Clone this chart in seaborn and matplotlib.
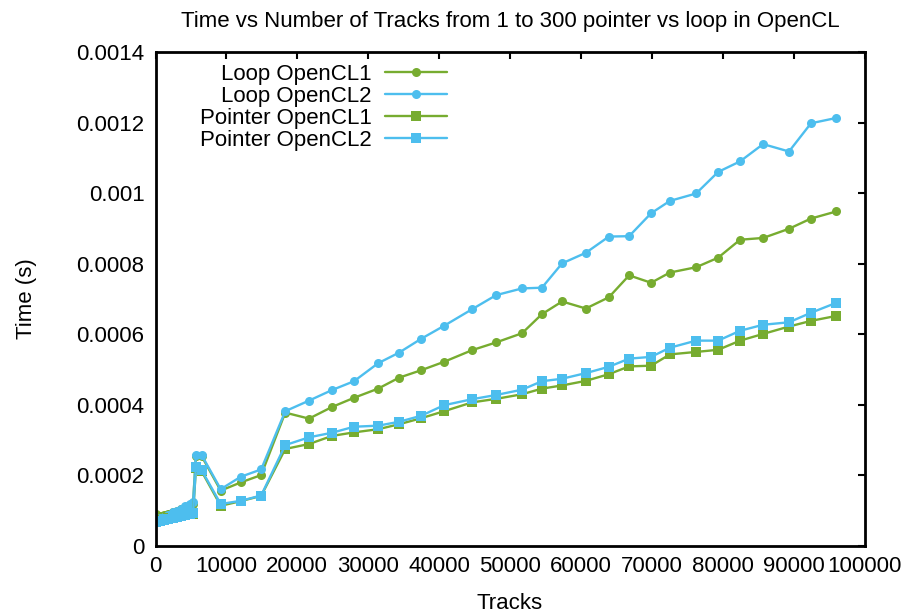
import matplotlib
matplotlib.use("Agg")
import matplotlib.pyplot as plt
import seaborn as sns
import pandas as pd
from matplotlib.ticker import FuncFormatter, MultipleLocator

# ---- data ----
tracks = [100, 600, 1200, 1800, 2400, 3000, 3600, 4200, 4800, 5300,
          5700, 6500, 9200, 12000, 14900,
          18300, 21650, 24900, 28000, 31400, 34350, 37450, 40700, 44650, 48050,
          51700, 54500, 57350, 60700, 63950, 66800, 69900, 72550, 76250, 79350,
          82450, 85700, 89350, 92450, 96000]

loop_cl1 = [9.0e-5, 8.5e-5, 8.7e-5, 9.2e-5, 9.6e-5, 1.0e-4, 1.05e-4, 1.1e-4, 1.15e-4, 1.2e-4,
            2.55e-4, 2.55e-4, 1.57e-4, 1.80e-4, 2.01e-4,
            3.78e-4, 3.61e-4, 3.94e-4, 4.20e-4, 4.46e-4, 4.77e-4, 4.98e-4, 5.22e-4, 5.55e-4, 5.77e-4,
            6.03e-4, 6.57e-4, 6.93e-4, 6.73e-4, 7.05e-4, 7.67e-4, 7.46e-4, 7.75e-4, 7.90e-4, 8.17e-4,
            8.68e-4, 8.73e-4, 8.99e-4, 9.28e-4, 9.48e-4]

loop_cl2 = [7.5e-5, 7.8e-5, 8.3e-5, 8.8e-5, 9.5e-5, 1.0e-4, 1.06e-4, 1.12e-4, 1.18e-4, 1.24e-4,
            2.58e-4, 2.58e-4, 1.61e-4, 1.96e-4, 2.17e-4,
            3.82e-4, 4.12e-4, 4.42e-4, 4.67e-4, 5.18e-4, 5.48e-4, 5.87e-4, 6.24e-4, 6.71e-4, 7.11e-4,
            7.30e-4, 7.32e-4, 8.01e-4, 8.31e-4, 8.77e-4, 8.78e-4, 9.43e-4, 9.78e-4, 9.99e-4, 1.060e-3,
            1.090e-3, 1.139e-3, 1.118e-3, 1.198e-3, 1.213e-3]

pointer_cl1 = [7.2e-5, 7.3e-5, 7.5e-5, 7.8e-5, 8.0e-5, 8.3e-5, 8.5e-5, 8.8e-5, 9.0e-5, 9.2e-5,
               2.20e-4, 2.12e-4, 1.14e-4, 1.27e-4, 1.42e-4,
               2.75e-4, 2.89e-4, 3.12e-4, 3.22e-4, 3.31e-4, 3.45e-4, 3.62e-4, 3.82e-4, 4.07e-4, 4.17e-4,
               4.30e-4, 4.46e-4, 4.55e-4, 4.68e-4, 4.87e-4, 5.09e-4, 5.11e-4, 5.43e-4, 5.50e-4, 5.56e-4,
               5.82e-4, 6.01e-4, 6.22e-4, 6.38e-4, 6.52e-4]

pointer_cl2 = [6.8e-5, 7.0e-5, 7.3e-5, 7.6e-5, 7.9e-5, 8.2e-5, 8.5e-5, 8.8e-5, 9.1e-5, 9.4e-5,
               2.23e-4, 2.15e-4, 1.19e-4, 1.28e-4, 1.43e-4,
               2.86e-4, 3.08e-4, 3.21e-4, 3.38e-4, 3.41e-4, 3.52e-4, 3.69e-4, 3.99e-4, 4.16e-4, 4.28e-4,
               4.43e-4, 4.67e-4, 4.74e-4, 4.90e-4, 5.08e-4, 5.31e-4, 5.36e-4, 5.62e-4, 5.82e-4, 5.82e-4,
               6.10e-4, 6.27e-4, 6.34e-4, 6.61e-4, 6.89e-4]

series_names = ["Loop OpenCL1", "Loop OpenCL2", "Pointer OpenCL1", "Pointer OpenCL2"]
series_values = [loop_cl1, loop_cl2, pointer_cl1, pointer_cl2]
series_colors = ["#77AC30", "#4DBEEE", "#77AC30", "#4DBEEE"]
series_markers = ["o", "o", "s", "s"]
series_msize = [6.5, 6.5, 7, 7]

sns.set_theme(style="white")
plt.rcParams["font.family"] = ["Liberation Sans", "DejaVu Sans"]
plt.rcParams["font.size"] = 16
plt.rcParams["text.color"] = "black"
plt.rcParams["axes.labelcolor"] = "black"
plt.rcParams["xtick.color"] = "black"
plt.rcParams["ytick.color"] = "black"

fig = plt.figure(figsize=(9.09, 6.13), dpi=100)
ax = fig.add_axes([155.5 / 909, 67 / 613, 709 / 909, 494 / 613])

for name, vals, col, mk, ms in zip(series_names, series_values, series_colors,
                                  series_markers, series_msize):
    df = pd.DataFrame({"Tracks": tracks, "Time": vals})
    sns.lineplot(data=df, x="Tracks", y="Time", ax=ax, color=col, marker=mk,
                 markersize=ms, markeredgewidth=0, linewidth=1.7,
                 estimator=None, sort=False, label=name)

ax.set_xlim(0, 100000)
ax.set_ylim(0, 0.0014)
ax.xaxis.set_major_locator(MultipleLocator(10000))
ax.yaxis.set_major_locator(MultipleLocator(0.0002))
ax.xaxis.set_major_formatter(FuncFormatter(lambda v, p: "%d" % round(v)))
ax.yaxis.set_major_formatter(FuncFormatter(lambda v, p: "%g" % round(v, 6)))

ax.tick_params(axis="both", which="major", direction="in", length=5, width=1.5,
               colors="black", labelcolor="black", labelsize=16, top=True, right=True)
ax.tick_params(axis="x", pad=7)
ax.tick_params(axis="y", pad=8)
for sp in ax.spines.values():
    sp.set_visible(True)
    sp.set_color("black")
    sp.set_linewidth(2)

ax.set_xlabel("Tracks", fontsize=16, labelpad=12, color="black")
ax.set_ylabel("Time (s)", fontsize=16, labelpad=28, color="black")
ax.set_title("Time vs Number of Tracks from 1 to 300 pointer vs loop in OpenCL",
             fontsize=16, pad=18, color="black")

leg = ax.legend(loc="upper right", bbox_to_anchor=((447 - 155.5) / 709, (546 - 64) / 494),
                frameon=False, markerfirst=False, fontsize=16, handlelength=2.8,
                handletextpad=0.6, labelspacing=0.04, borderpad=0, borderaxespad=0,
                labelcolor="black")

fig.savefig("out.png", dpi=100)
